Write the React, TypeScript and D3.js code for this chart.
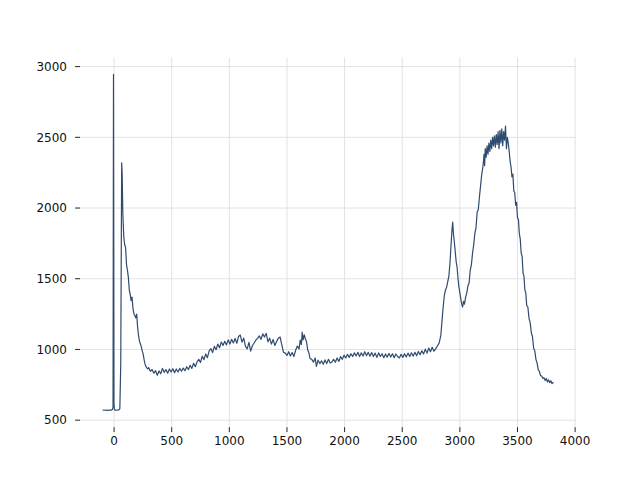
import React from "react";
import * as d3 from "d3";

const wavenumber: number[] = [
  -100, -85, -70, -55, -40, -25, -15, -9, -5, -1, 3, 10, 25, 40, 50, 58, 66, 70, 76, 84, 92, 100, 108, 116, 124, 132, 140, 148, 156, 164, 172, 180, 188, 196, 204, 212, 220, 228, 236, 244, 252, 260, 268, 276, 284, 292,
  300, 315, 330, 345, 360, 375, 390, 405, 420, 435, 450, 465, 480, 495, 510, 525, 540, 555, 570, 585, 600, 615, 630, 645, 660, 675, 690, 705, 720, 735, 750, 765, 780, 795, 810, 825, 840, 855, 870, 885, 900, 915, 930, 945, 960, 975, 990,
  1005, 1020, 1035, 1050, 1065, 1080, 1095, 1110, 1125, 1140, 1155, 1170, 1185, 1200, 1215, 1230, 1245, 1260, 1275, 1290, 1305, 1320, 1335, 1350, 1365, 1380, 1395, 1410, 1425, 1440, 1455, 1470, 1485, 1500, 1515, 1530, 1545, 1560, 1575, 1590, 1605, 1615, 1625, 1632, 1640, 1650, 1660, 1670, 1680, 1690, 1700, 1715, 1730, 1745, 1755, 1770, 1785, 1800, 1815, 1830, 1845, 1860, 1875, 1890, 1905, 1920, 1935, 1950, 1965, 1980, 1995,
  2010, 2025, 2040, 2055, 2070, 2085, 2100, 2115, 2130, 2145, 2160, 2175, 2190, 2205, 2220, 2235, 2250, 2265, 2280, 2295, 2310, 2325, 2340, 2355, 2370, 2385, 2400, 2415, 2430, 2445, 2460, 2475, 2490, 2505, 2520, 2535, 2550, 2565, 2580, 2595, 2610, 2625, 2640, 2655, 2670, 2685, 2700, 2715, 2730, 2745, 2760, 2775, 2790, 2805, 2820, 2835, 2845, 2855, 2865, 2875, 2885, 2895, 2905, 2915, 2925, 2932, 2938, 2944, 2952, 2960, 2968, 2976, 2984, 2992,
  3000, 3008, 3016, 3024, 3032, 3040, 3050, 3060, 3070, 3080, 3090, 3100, 3110, 3120, 3130, 3140, 3150, 3160, 3170, 3180, 3190, 3200, 3210, 3215, 3220, 3228, 3236, 3244, 3252, 3260, 3268, 3276, 3284, 3292, 3300, 3308, 3316, 3324, 3332, 3340, 3348, 3356, 3364, 3372, 3380, 3388, 3396, 3404, 3412, 3420, 3428, 3436, 3444, 3452, 3460, 3468, 3476, 3484, 3492,
  3500, 3508, 3516, 3524, 3532, 3540, 3548, 3556, 3564, 3572, 3580, 3590, 3600, 3610, 3620, 3630, 3640, 3650, 3660, 3670, 3680, 3690, 3700, 3710, 3720, 3730, 3740, 3750, 3760, 3770, 3780, 3790, 3800, 3812,
];

const intensity: number[] = [
  572, 570, 571, 569, 572, 571, 575, 590, 2945, 620, 575, 570, 571, 572, 580, 900, 2320, 2250, 1960, 1800, 1740, 1720, 1600, 1560, 1510, 1420, 1390, 1345, 1370, 1290, 1253, 1240, 1224, 1250, 1160, 1100, 1060, 1040, 1020, 990, 969, 930, 898, 880, 870, 862,
  872, 845, 858, 832, 850, 818, 848, 828, 866, 838, 858, 832, 862, 840, 864, 836, 862, 840, 866, 846, 868, 850, 878, 858, 888, 866, 902, 878, 912, 930, 908, 952, 928, 968, 942, 990, 1006, 978, 1022, 998, 1038, 1012, 1052, 1028, 1058, 1032, 1068,
  1038, 1072, 1046, 1078, 1044, 1092, 1102, 1052, 1080, 1022, 1004, 1050, 988, 1026, 1046, 1066, 1078, 1096, 1072, 1110, 1088, 1114, 1054, 1080, 1038, 1070, 1028, 1056, 1080, 1088, 1034, 980, 974, 958, 984, 954, 978, 950, 994, 1024, 1004, 1066, 1034, 1122, 1068, 1104, 1074, 1054, 996, 978, 936, 930, 910, 940, 880, 924, 900, 920, 896, 926, 900, 930, 904, 912, 930, 910, 940, 915, 950, 930, 960,
  940, 966, 944, 970, 950, 976, 954, 980, 950, 976, 954, 984, 956, 980, 952, 978, 950, 974, 944, 976, 950, 970, 942, 968, 946, 972, 946, 970, 942, 968, 950, 940, 966, 944, 970, 946, 974, 950, 976, 952, 980, 956, 986, 962, 990, 968, 1002, 974, 1010, 984, 1016, 988, 1004, 1024, 1045, 1100, 1200, 1300, 1380, 1420, 1440, 1480, 1520, 1620, 1760, 1850, 1900, 1820, 1760, 1690, 1620, 1580, 1500, 1440,
  1400, 1360, 1320, 1300, 1340, 1320, 1370, 1400, 1450, 1470, 1560, 1600, 1680, 1740, 1820, 1860, 1970, 1990, 2080, 2160, 2240, 2290, 2380, 2300, 2420, 2360, 2440, 2380, 2460, 2400, 2480, 2420, 2500, 2440, 2510, 2430, 2520, 2450, 2540, 2420, 2550, 2460, 2560, 2440, 2540, 2480, 2580, 2420, 2500, 2460, 2400, 2330, 2290, 2220, 2240, 2120, 2110, 2020, 2040,
  1930, 1920, 1820, 1780, 1680, 1660, 1540, 1520, 1420, 1400, 1310, 1300, 1220, 1190, 1120, 1090, 1010, 990, 930, 905, 855, 845, 815, 812, 795, 800, 780, 795, 770, 785, 765, 778, 758, 768,
];

const xTicks: number[] = [0, 500, 1000, 1500, 2000, 2500, 3000, 3500, 4000];
const yTicks: number[] = [500, 1000, 1500, 2000, 2500, 3000];

const W = 640;
const H = 480;
const left = 80;
const right = 576;
const top = 57.6;
const bottom = 427.2;

export default function App() {
  const [xmin, xmax] = d3.extent(wavenumber) as [number, number];
  const [ymin, ymax] = d3.extent(intensity) as [number, number];
  const xpad = (xmax - xmin) * 0.05;
  const ypad = (ymax - ymin) * 0.05;
  const x = d3.scaleLinear().domain([xmin - xpad, xmax + xpad]).range([left, right]);
  const y = d3.scaleLinear().domain([ymin - ypad, ymax + ypad]).range([bottom, top]);

  const pts: [number, number][] = wavenumber.map((w, i) => [w, intensity[i]]);
  const line = d3
    .line<[number, number]>()
    .x((d) => x(d[0]))
    .y((d) => y(d[1]));

  const font = "DejaVu Sans, sans-serif";
  return (
    <svg width={W} height={H} style={{ position: "absolute", left: 0, top: 0 }}>
      <rect width={W} height={H} fill="#ffffff" />
      {xTicks.map((t) => (
        <line key={"gx" + t} x1={x(t)} x2={x(t)} y1={top} y2={bottom} stroke="#e2e2e2" strokeWidth={1} />
      ))}
      {yTicks.map((t) => (
        <line key={"gy" + t} x1={left} x2={right} y1={y(t)} y2={y(t)} stroke="#e2e2e2" strokeWidth={1} />
      ))}
      <path d={line(pts) || ""} fill="none" stroke="#2f4b6f" strokeWidth={1.2} strokeLinejoin="round" />
      {xTicks.map((t) => (
        <g key={"tx" + t}>
          <line x1={x(t)} x2={x(t)} y1={bottom} y2={bottom + 4.9} stroke="#222" strokeWidth={1} />
          <text x={x(t)} y={bottom + 18} textAnchor="middle" fontFamily={font} fontSize={12} fill="#111">
            {t}
          </text>
        </g>
      ))}
      {yTicks.map((t) => (
        <g key={"ty" + t}>
          <line x1={left - 4.9} x2={left} y1={y(t)} y2={y(t)} stroke="#222" strokeWidth={1} />
          <text x={left - 13} y={y(t)} dy="0.35em" textAnchor="end" fontFamily={font} fontSize={12} fill="#111">
            {t}
          </text>
        </g>
      ))}
    </svg>
  );
}
